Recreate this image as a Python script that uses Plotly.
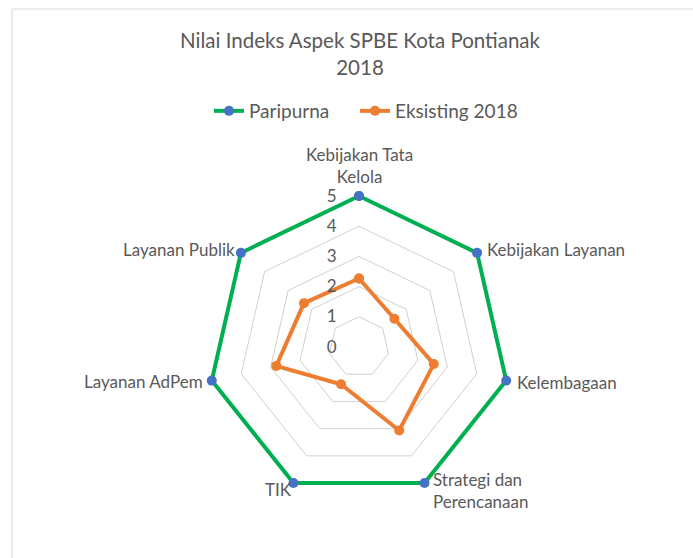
import math
import plotly.graph_objects as go

# Aspek SPBE (clockwise from the top)
categories = [
    "Kebijakan Tata Kelola",
    "Kebijakan Layanan",
    "Kelembagaan",
    "Strategi dan Perencanaan",
    "TIK",
    "Layanan AdPem",
    "Layanan Publik",
]
category_labels = [
    "Kebijakan Tata<br>Kelola",
    "Kebijakan Layanan",
    "Kelembagaan",
    "Strategi dan<br>Perencanaan",
    "TIK",
    "Layanan AdPem",
    "Layanan Publik",
]
paripurna = [5, 5, 5, 5, 5, 5, 5]
eksisting_2018 = [2.27, 1.50, 2.54, 3.07, 1.37, 2.81, 2.33]
radial_ticks = [0, 1, 2, 3, 4, 5]

W, H = 693, 558
FONT = "Lato"
TEXT = "#595959"

def closed(seq):
    return list(seq) + [seq[0]]

fig = go.Figure()
fig.add_trace(go.Scatterpolar(
    r=closed(paripurna), theta=closed(categories), name="Paripurna",
    mode="lines+markers", cliponaxis=False, legend="legend", showlegend=True,
    line=dict(color="#00b050", width=4),
    marker=dict(color="#4472c4", size=10),
))
fig.add_trace(go.Scatterpolar(
    r=closed(eksisting_2018), theta=closed(categories), name="Eksisting 2018",
    mode="lines+markers", cliponaxis=False, legend="legend2", showlegend=True,
    line=dict(color="#ed7d31", width=4),
    marker=dict(color="#ed7d31", size=10),
))

# polar area: centre (359, 347); the value 5 ring has a radius of 151 px.
# The radial range runs a little past 5 so the outer line is not clipped.
cx, cy, rad = 359, 347, 151
rmax = radial_ticks[-1]
rtop = rmax * 1.04
drad = rad * rtop / rmax

# category labels sit next to the outer ring vertices
label_style = [
    # xanchor, yanchor, xshift, yshift, align
    ("center", "bottom", 0, 7, "center"),
    ("left", "middle", 8, 3, "left"),
    ("left", "middle", 9, -2, "left"),
    ("left", "top", 6, 16, "left"),
    ("right", "middle", 1, -6, "right"),
    ("right", "middle", -7, -1, "right"),
    ("right", "middle", -4, 3, "right"),
]
annotations = []
n = len(categories)
for k, (lab, (xa, ya, xs, ys, al)) in enumerate(zip(category_labels, label_style)):
    a = math.radians(90 - k * 360 / n)
    px = cx + rad * math.cos(a)
    py = cy - rad * math.sin(a)
    annotations.append(dict(
        text=lab, xref="paper", yref="paper", x=px / W, y=1 - py / H,
        xanchor=xa, yanchor=ya, xshift=xs, yshift=ys, align=al,
        showarrow=False, font=dict(family=FONT, size=17, color=TEXT),
    ))

legend_common = dict(
    orientation="h", xanchor="left", y=1 - 111 / H, yanchor="middle",
    font=dict(family=FONT, size=19, color=TEXT), bgcolor="rgba(0,0,0,0)",
)

fig.update_layout(
    width=W, height=H,
    margin=dict(l=0, r=0, t=0, b=0),
    paper_bgcolor="white",
    font=dict(family=FONT, color=TEXT),
    showlegend=True,
    title=dict(
        text="Nilai Indeks Aspek SPBE Kota Pontianak<br>2018",
        x=360 / W, xanchor="center", y=1 - 48 / H, yanchor="top",
        font=dict(family=FONT, size=20.5, color=TEXT),
    ),
    legend=dict(x=209 / W, **legend_common),
    legend2=dict(x=355 / W, **legend_common),
    polar=dict(
        domain=dict(x=[(cx - drad) / W, (cx + drad) / W],
                    y=[1 - (cy + drad) / H, 1 - (cy - drad) / H]),
        bgcolor="white",
        gridshape="linear",
        radialaxis=dict(
            range=[0, rtop], tickvals=radial_ticks, angle=90, tickangle=90,
            side="counterclockwise",
            showline=False, gridcolor="#d0d0d0", gridwidth=1,
            ticks="outside", ticklen=16, tickcolor="rgba(0,0,0,0)",
            tickfont=dict(family=FONT, size=17, color=TEXT),
        ),
        angularaxis=dict(
            rotation=90, direction="clockwise",
            showgrid=False, showline=False, ticks="", showticklabels=False,
        ),
    ),
    annotations=annotations,
    shapes=[dict(
        type="rect", xref="paper", yref="paper",
        x0=12 / W, x1=1.02, y0=-0.02, y1=1 - 9 / H,
        line=dict(color="#d9d9d9", width=1), layer="below",
    )],
)

fig.write_html("out.html")
